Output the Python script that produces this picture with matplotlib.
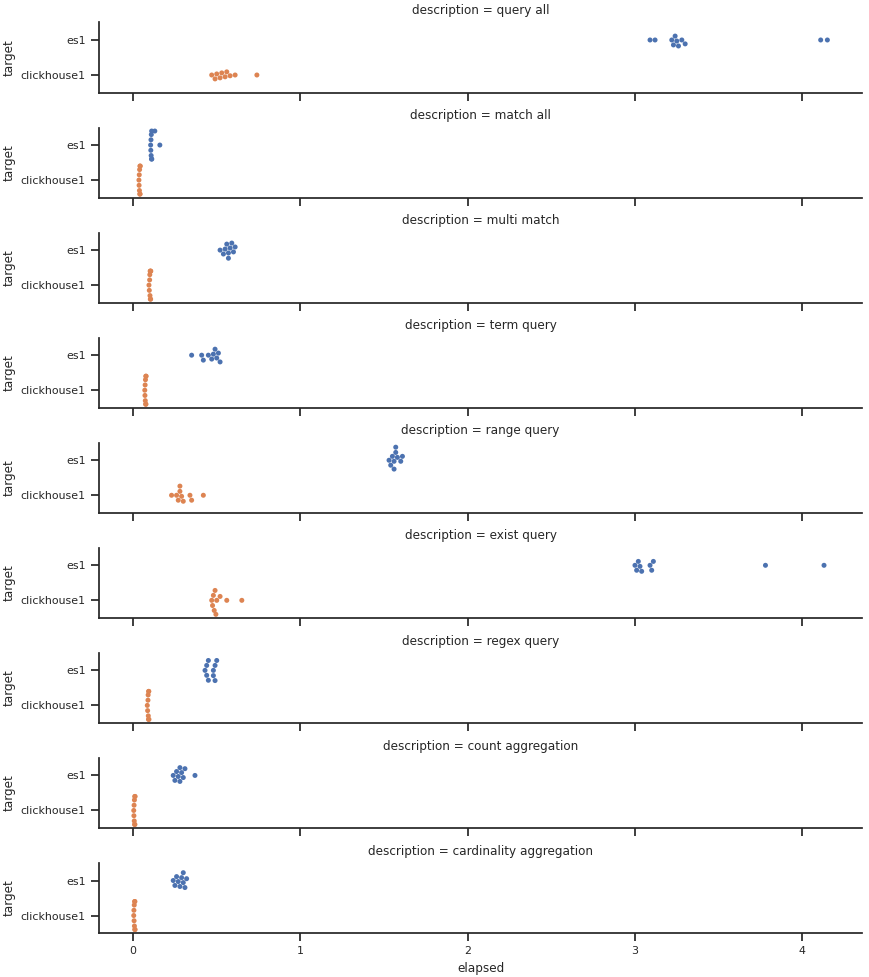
import numpy as np
import pandas as pd
import seaborn as sns
import matplotlib
matplotlib.use("Agg")
import matplotlib.pyplot as plt

descriptions = ["query all", "match all", "multi match", "term query", "range query",
                "exist query", "regex query", "count aggregation", "cardinality aggregation"]
targets = ["es1", "clickhouse1"]

# elapsed seconds per run
es1_query_all = [3.09, 3.12, 3.22, 3.23, 3.24, 3.25, 3.26, 3.28, 3.30, 4.11, 4.15]
ch_query_all = [0.47, 0.49, 0.50, 0.52, 0.53, 0.55, 0.56, 0.58, 0.61, 0.74]
es1_match_all = [0.105, 0.106, 0.107, 0.108, 0.109, 0.110, 0.111, 0.112, 0.13, 0.16]
ch_match_all = [0.035, 0.036, 0.037, 0.038, 0.039, 0.040, 0.041, 0.042, 0.043]
es1_multi_match = [0.52, 0.54, 0.55, 0.56, 0.57, 0.57, 0.58, 0.59, 0.60, 0.61]
ch_multi_match = [0.095, 0.097, 0.099, 0.100, 0.101, 0.102, 0.103, 0.104, 0.105, 0.106]
es1_term_query = [0.35, 0.41, 0.42, 0.45, 0.47, 0.48, 0.49, 0.50, 0.51, 0.52]
ch_term_query = [0.070, 0.071, 0.072, 0.073, 0.074, 0.075, 0.076, 0.077, 0.078]
es1_range_query = [1.53, 1.54, 1.55, 1.56, 1.56, 1.57, 1.57, 1.58, 1.60, 1.61]
ch_range_query = [0.23, 0.26, 0.27, 0.28, 0.28, 0.29, 0.30, 0.34, 0.35, 0.42]
es1_exist_query = [3.00, 3.01, 3.02, 3.03, 3.04, 3.09, 3.10, 3.11, 3.78, 4.13]
ch_exist_query = [0.47, 0.475, 0.48, 0.485, 0.49, 0.495, 0.50, 0.52, 0.56, 0.65]
es1_regex_query = [0.43, 0.44, 0.44, 0.45, 0.45, 0.48, 0.48, 0.49, 0.49, 0.50]
ch_regex_query = [0.085, 0.087, 0.089, 0.090, 0.091, 0.092, 0.093, 0.094, 0.095]
es1_count_agg = [0.24, 0.25, 0.26, 0.27, 0.28, 0.28, 0.29, 0.30, 0.31, 0.37]
ch_count_agg = [0.004, 0.005, 0.006, 0.007, 0.008, 0.009, 0.010, 0.011, 0.012]
es1_card_agg = [0.24, 0.25, 0.26, 0.27, 0.28, 0.29, 0.30, 0.30, 0.31, 0.32]
ch_card_agg = [0.004, 0.005, 0.006, 0.007, 0.008, 0.009, 0.010, 0.011, 0.012]

es1_runs = [es1_query_all, es1_match_all, es1_multi_match, es1_term_query, es1_range_query,
            es1_exist_query, es1_regex_query, es1_count_agg, es1_card_agg]
ch_runs = [ch_query_all, ch_match_all, ch_multi_match, ch_term_query, ch_range_query,
           ch_exist_query, ch_regex_query, ch_count_agg, ch_card_agg]

rows = []
for desc, es, ch in zip(descriptions, es1_runs, ch_runs):
    for v in es:
        rows.append((desc, "es1", v))
    for v in ch:
        rows.append((desc, "clickhouse1", v))
df = pd.DataFrame(rows, columns=["description", "target", "elapsed"])

sns.set_theme(style="ticks", font_scale=0.72)
g = sns.catplot(data=df, x="elapsed", y="target", row="description", kind="swarm",
                order=targets, hue="target", hue_order=targets, legend=False,
                row_order=descriptions, height=1.085, aspect=8.0, size=3.6)
g.fig.set_size_inches(8.69, 9.77)
g.fig.subplots_adjust(left=0.114, right=0.992, top=0.977, bottom=0.045, hspace=0.5)
g.fig.savefig("out.png", dpi=100)
